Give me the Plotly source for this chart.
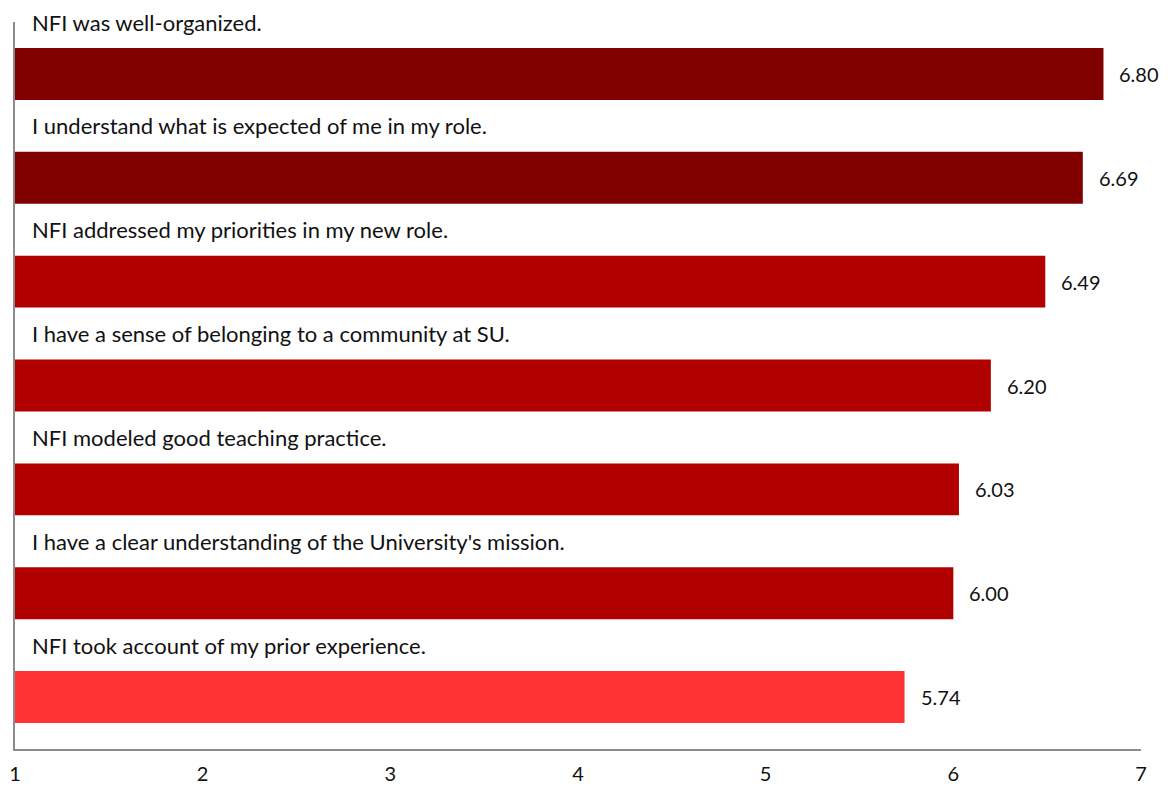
import plotly.graph_objects as go

categories = [
    "NFI was well-organized.",
    "I understand what is expected of me in my role.",
    "NFI addressed my priorities in my new role.",
    "I have a sense of belonging to a community at SU.",
    "NFI modeled good teaching practice.",
    "I have a clear understanding of the University's mission.",
    "NFI took account of my prior experience.",
]
values = [6.80, 6.69, 6.49, 6.20, 6.03, 6.00, 5.74]
colors = ["#800000", "#800000", "#B00000", "#B00000", "#B00000", "#B00000", "#FF3333"]
tick_vals = [1, 2, 3, 4, 5, 6, 7]
tick_text = ["1", "2", "3", "4", "5", "6", "7"]

FONT = "Lato, 'Open Sans', sans-serif"
ypos = list(range(len(categories)))

fig = go.Figure()
fig.add_trace(go.Bar(
    x=[v - 1 for v in values],
    base=1,
    y=ypos,
    orientation="h",
    marker=dict(color=colors, line=dict(width=0)),
    width=0.5,
    hoverinfo="skip",
))

annotations = []
for i, (c, v) in enumerate(zip(categories, values)):
    annotations.append(dict(
        x=1, y=i - 0.5, xref="x", yref="y", text=c, showarrow=False,
        xanchor="left", yanchor="middle", xshift=15,
        font=dict(family=FONT, size=22, color="#111111"),
    ))
    annotations.append(dict(
        x=v, y=i, xref="x", yref="y", text=f"{v:.2f}", showarrow=False,
        xanchor="left", yanchor="middle", xshift=14,
        font=dict(family=FONT, size=20, color="#111111"),
    ))

fig.update_layout(
    width=1160, height=786,
    margin=dict(l=7, r=27, t=14, b=45, autoexpand=False),
    paper_bgcolor="white", plot_bgcolor="white",
    showlegend=False,
    bargap=0.5,
    annotations=annotations,
    font=dict(family=FONT, size=20, color="#111111"),
    xaxis=dict(
        range=[1, 7], tickvals=tick_vals, ticktext=tick_text,
        showgrid=False, zeroline=False, showline=True, automargin=False,
        linecolor="#8c8c8c", linewidth=1.5, ticks="", ticklabelstandoff=6,
        ticklabeloverflow="allow",
        tickfont=dict(family=FONT, size=20, color="#111111"),
    ),
    yaxis=dict(
        range=[6.5, -0.5], showticklabels=False, showgrid=False,
        zeroline=False, showline=True, linecolor="#8c8c8c", linewidth=1.5,
        ticks="", automargin=False,
    ),
)

fig.write_html("out.html")
